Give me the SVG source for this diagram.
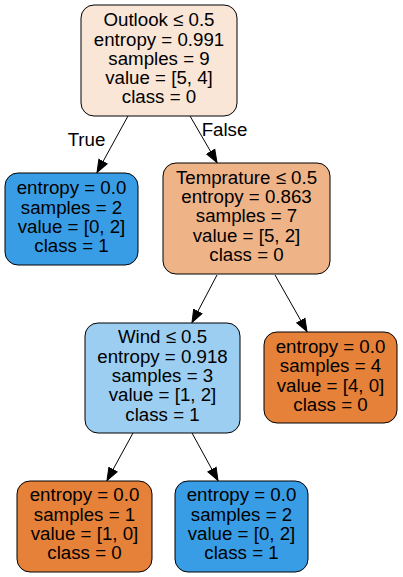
<svg xmlns="http://www.w3.org/2000/svg" width="403" height="577" viewBox="0 0 403 577">
  <style>
    .box { stroke: #000; stroke-width: 1; }
    .lbl { font-family: "Liberation Sans", Arial, Helvetica, sans-serif; font-size: 18.7px; fill: #000; text-anchor: middle; }
    .edge { stroke: #000; stroke-width: 1; fill: none; marker-end: url(#arrow); }
  </style>
  <defs>
    <marker id="arrow" markerUnits="userSpaceOnUse" markerWidth="14" markerHeight="14" viewBox="0 0 14 14" refX="13" refY="7" orient="auto">
      <path d="M0.5,2.3 L13,7 L0.5,11.7 Z" fill="#000" stroke="#000" stroke-width="1"/>
    </marker>
  </defs>
  <rect width="403" height="577" fill="#fff"/>

  <!-- connectors -->
  <g id="edges">
    <line class="edge" x1="128" y1="116" x2="97" y2="172.5"/>
    <line class="edge" x1="190" y1="116" x2="217" y2="162.5"/>
    <line class="edge" x1="217" y1="275" x2="192" y2="322.5"/>
    <line class="edge" x1="275" y1="275" x2="307" y2="331.5"/>
    <line class="edge" x1="133" y1="433" x2="107" y2="480.5"/>
    <line class="edge" x1="192" y1="433" x2="218" y2="480.5"/>
    <text class="lbl" x="86.5" y="146">True</text>
    <text class="lbl" x="224.5" y="136">False</text>
  </g>

  <!-- split on Outlook -->
  <g id="node0">
    <rect class="box" x="81" y="5" width="156" height="111" rx="13" ry="13" fill="#fae6d7"/>
    <text class="lbl" x="159" y="26.2">Outlook ≤ 0.5</text>
    <text class="lbl" x="159" y="45.5">entropy = 0.991</text>
    <text class="lbl" x="159" y="64.8">samples = 9</text>
    <text class="lbl" x="159" y="84.1">value = [5, 4]</text>
    <text class="lbl" x="159" y="103.4">class = 0</text>
  </g>

  <!-- True leaf -->
  <g id="node1">
    <rect class="box" x="5" y="173" width="133" height="92" rx="13" ry="13" fill="#399de5"/>
    <text class="lbl" x="71.5" y="194.4">entropy = 0.0</text>
    <text class="lbl" x="71.5" y="213.7">samples = 2</text>
    <text class="lbl" x="71.5" y="233">value = [0, 2]</text>
    <text class="lbl" x="71.5" y="252.3">class = 1</text>
  </g>

  <!-- split on Temprature -->
  <g id="node2">
    <rect class="box" x="163" y="163" width="167" height="111" rx="13" ry="13" fill="#efb388"/>
    <text class="lbl" x="246.5" y="183.7">Temprature ≤ 0.5</text>
    <text class="lbl" x="246.5" y="203">entropy = 0.863</text>
    <text class="lbl" x="246.5" y="222.3">samples = 7</text>
    <text class="lbl" x="246.5" y="241.6">value = [5, 2]</text>
    <text class="lbl" x="246.5" y="260.9">class = 0</text>
  </g>

  <!-- split on Wind -->
  <g id="node3">
    <rect class="box" x="85" y="323" width="155" height="110" rx="13" ry="13" fill="#9ccef2"/>
    <text class="lbl" x="162.5" y="343.4">Wind ≤ 0.5</text>
    <text class="lbl" x="162.5" y="362.7">entropy = 0.918</text>
    <text class="lbl" x="162.5" y="382">samples = 3</text>
    <text class="lbl" x="162.5" y="401.3">value = [1, 2]</text>
    <text class="lbl" x="162.5" y="420.6">class = 1</text>
  </g>

  <!-- leaf [4, 0] -->
  <g id="node6">
    <rect class="box" x="264" y="332" width="133" height="91" rx="13" ry="13" fill="#e58139"/>
    <text class="lbl" x="330.5" y="352.9">entropy = 0.0</text>
    <text class="lbl" x="330.5" y="372.2">samples = 4</text>
    <text class="lbl" x="330.5" y="391.5">value = [4, 0]</text>
    <text class="lbl" x="330.5" y="410.8">class = 0</text>
  </g>

  <!-- leaf [1, 0] -->
  <g id="node4">
    <rect class="box" x="17" y="481" width="135" height="91" rx="13" ry="13" fill="#e58139"/>
    <text class="lbl" x="84.5" y="501.4">entropy = 0.0</text>
    <text class="lbl" x="84.5" y="520.7">samples = 1</text>
    <text class="lbl" x="84.5" y="540">value = [1, 0]</text>
    <text class="lbl" x="84.5" y="559.3">class = 0</text>
  </g>

  <!-- leaf [0, 2] -->
  <g id="node5">
    <rect class="box" x="175" y="481" width="133" height="91" rx="13" ry="13" fill="#399de5"/>
    <text class="lbl" x="241.5" y="501.4">entropy = 0.0</text>
    <text class="lbl" x="241.5" y="520.7">samples = 2</text>
    <text class="lbl" x="241.5" y="540">value = [0, 2]</text>
    <text class="lbl" x="241.5" y="559.3">class = 1</text>
  </g>
</svg>
